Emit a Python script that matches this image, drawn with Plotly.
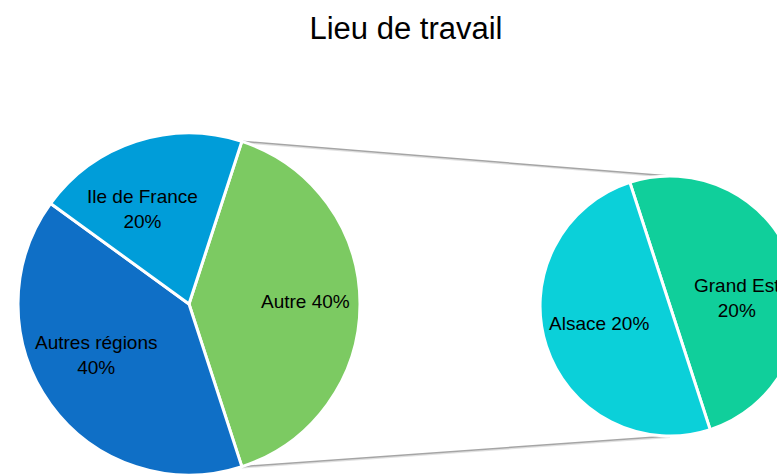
import math
import plotly.graph_objects as go

# ---- data ----
main_labels = ["Autre", "Autres régions", "Ile de France"]
main_values = [40, 40, 20]
main_colors = ["#7CCA62", "#0F6FC6", "#009DD9"]

sub_labels = ["Grand Est", "Alsace"]
sub_values = [20, 20]
sub_colors = ["#10CF9B", "#0BD0D9"]

title_text = "Lieu de travail"

# ---- layout geometry (pixels) ----
W, H = 800, 476
main_cx, main_cy, main_r = 189, 304, 171
sub_cx, sub_cy, sub_r = 670, 306, 130

total = sum(main_values)
autre_share = main_values[0] / total
main_rot = 90 - autre_share * 360 / 2          # centre "Autre" on 3 o'clock
sub_rot = -18

# label placement: (line break?, angle nudge in degrees, radial fraction)
main_label_style = [(False, -1, 0.68), (True, 7, 0.62), (True, -8, 0.62)]
sub_label_style = [(True, 11, 0.52), (False, 4, 0.56)]


def dom(cx, cy, r):
    return dict(x=[(cx - r) / W, min(1.0, (cx + r) / W)],
                y=[1 - (cy + r) / H, 1 - (cy - r) / H])


label_font = dict(family="Liberation Sans, Arial, sans-serif", size=19, color="#000000")

fig = go.Figure()
fig.add_trace(go.Pie(
    labels=main_labels, values=main_values, sort=False, direction="clockwise",
    rotation=main_rot, marker=dict(colors=main_colors, line=dict(color="white", width=3)),
    textinfo="none", domain=dom(main_cx, main_cy, main_r), hoverinfo="label+percent",
))
fig.add_trace(go.Pie(
    labels=sub_labels, values=sub_values, sort=False, direction="clockwise",
    rotation=sub_rot, marker=dict(colors=sub_colors, line=dict(color="white", width=3)),
    textinfo="none", domain=dom(sub_cx, sub_cy, sub_r), hoverinfo="label",
))

annotations = []


def add_labels(labels, values, rot, cx, cy, r, styles):
    start = rot
    for lab, val, (brk, nudge, frac) in zip(labels, values, styles):
        span = val / sum(values) * 360
        mid = math.radians(start + span / 2 + nudge)
        start += span
        x = cx + frac * r * math.sin(mid)
        y = cy - frac * r * math.cos(mid)
        pct = f"{val / total:.0%}"
        txt = f"{lab}<br>{pct}" if brk else f"{lab} {pct}"
        annotations.append(dict(x=x / W, y=1 - y / H, xref="paper", yref="paper",
                                text=txt, showarrow=False, font=label_font,
                                xanchor="center", yanchor="middle", align="center"))


add_labels(main_labels, main_values, main_rot, main_cx, main_cy, main_r, main_label_style)
add_labels(sub_labels, sub_values, sub_rot, sub_cx, sub_cy, sub_r, sub_label_style)

# connector lines from the edges of the "Autre" slice to the second pie
a1 = math.radians(main_rot)
a2 = math.radians(main_rot + autre_share * 360)
p_top = (main_cx + main_r * math.sin(a1), main_cy - main_r * math.cos(a1))
p_bot = (main_cx + main_r * math.sin(a2), main_cy - main_r * math.cos(a2))
q_top = (sub_cx, sub_cy - sub_r)
q_bot = (sub_cx, sub_cy + sub_r)
shapes = []
for p, q in [(p_top, q_top), (p_bot, q_bot)]:
    shapes.append(dict(type="line", xref="paper", yref="paper",
                       x0=p[0] / W, y0=1 - (p[1] + 1.2) / H, x1=q[0] / W, y1=1 - (q[1] + 1.2) / H,
                       line=dict(color="rgba(0,0,0,0.12)", width=1.5), layer="below"))
    shapes.append(dict(type="line", xref="paper", yref="paper",
                       x0=p[0] / W, y0=1 - p[1] / H, x1=q[0] / W, y1=1 - q[1] / H,
                       line=dict(color="#A5A5A5", width=1.5), layer="below"))

fig.update_layout(
    width=W, height=H, margin=dict(l=0, r=0, t=0, b=0),
    paper_bgcolor="white", plot_bgcolor="white", showlegend=False,
    title=dict(text=title_text, x=406 / W, xanchor="center", y=1 - 28 / H, yanchor="middle",
               font=dict(family="Liberation Sans, Arial, sans-serif", size=31, color="#000000")),
    shapes=shapes, annotations=annotations,
)

fig.write_html("out.html", config={"displayModeBar": False},
               post_script="document.body.style.margin='0';document.body.style.overflow='hidden';")
